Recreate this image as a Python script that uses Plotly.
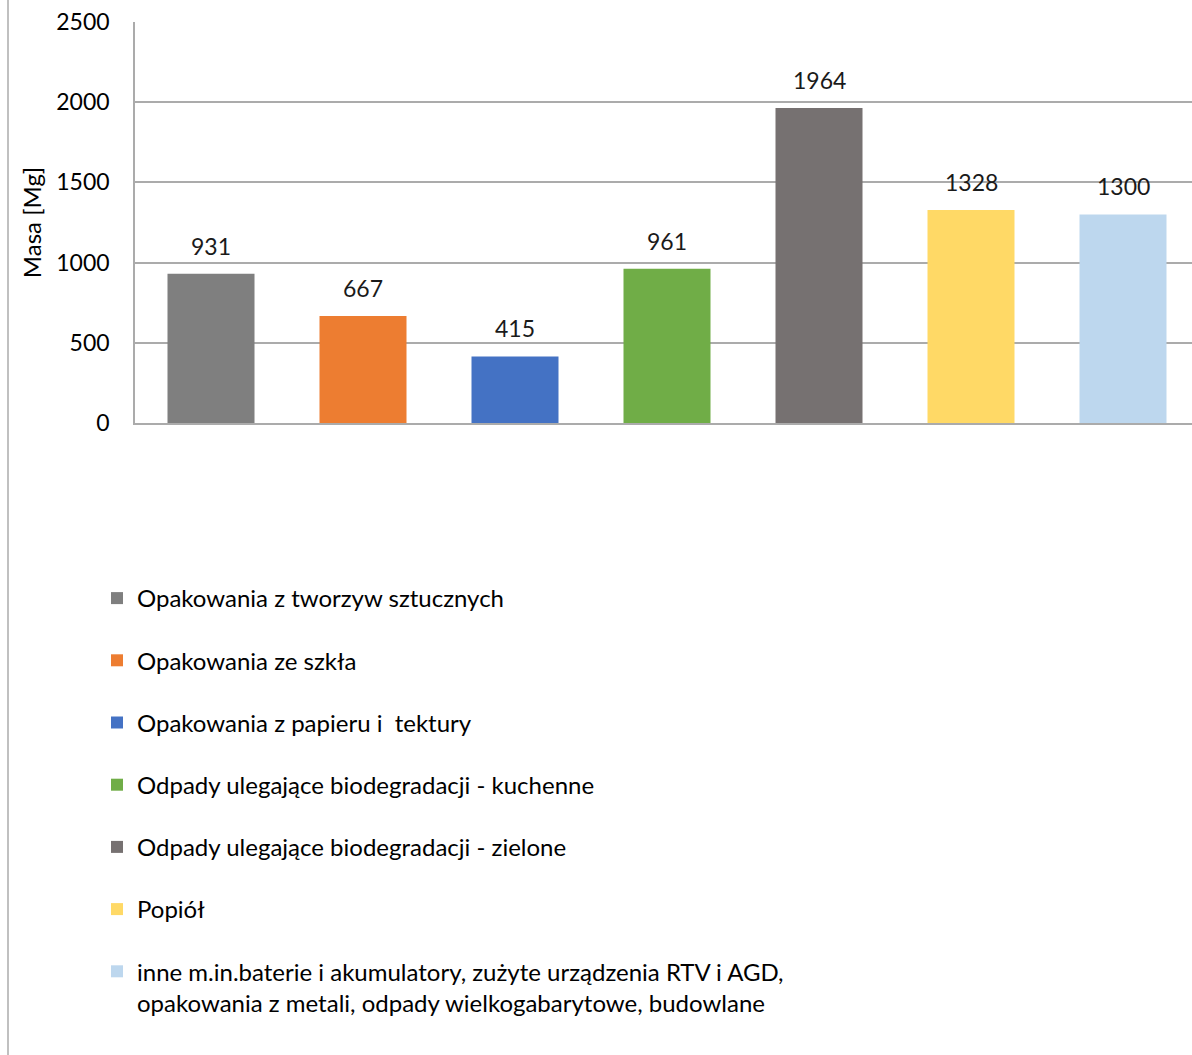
import plotly.graph_objects as go

categories = [
    "Opakowania z tworzyw sztucznych",
    "Opakowania ze szkła",
    "Opakowania z papieru i  tektury",
    "Odpady ulegające biodegradacji - kuchenne",
    "Odpady ulegające biodegradacji - zielone",
    "Popiół",
    "inne m.in.baterie i akumulatory, zużyte urządzenia RTV i AGD,<br>opakowania z metali, odpady wielkogabarytowe, budowlane",
]
values = [931, 667, 415, 961, 1964, 1328, 1300]
colors = ["#7F7F7F", "#ED7D31", "#4472C4", "#70AD47", "#767171", "#FFD966", "#BDD7EE"]
y_ticks = [0, 500, 1000, 1500, 2000, 2500]

FONT = "Lato"
W, H = 1192, 1055
L, T, R, B = 135, 22, 0, 632
plot_w = W - L - R
cat_px = 152.0
GRID = "#ABABAB"

fig = go.Figure()
for i, (c, v, col) in enumerate(zip(categories, values, colors)):
    fig.add_trace(go.Bar(
        x=[i], y=[v], name=c, width=87 / cat_px,
        marker=dict(color=col, line=dict(width=0)),
        legendgroup=f"g{i}", hoverinfo="y",
    ))
    fig.add_annotation(x=i, y=v, text=str(v), showarrow=False,
                       yanchor="bottom", yshift=12,
                       font=dict(family=FONT, size=23, color="#1A1A1A"))

fig.add_shape(type="line", xref="paper", yref="paper",
              x0=(8 - L) / plot_w, x1=(8 - L) / plot_w, y0=-2, y1=2,
              line=dict(color=GRID, width=1.5))

fig.update_layout(
    width=W, height=H,
    margin=dict(l=L, r=R, t=T, b=B, pad=0),
    paper_bgcolor="white", plot_bgcolor="white",
    barmode="overlay",
    showlegend=True,
    legend=dict(
        x=(97 - L) / plot_w, xanchor="left",
        y=(423 - 576) / (H - T - B), yanchor="top",
        traceorder="grouped", tracegroupgap=28, valign="top",
        font=dict(family=FONT, size=24, color="#000000"),
        itemwidth=30, bgcolor="rgba(0,0,0,0)",
    ),
    font=dict(family=FONT, size=23, color="#000000"),
)
fig.update_xaxes(range=[-0.5, -0.5 + plot_w / cat_px], showticklabels=False,
                 showgrid=False, zeroline=False, showline=True,
                 linecolor=GRID, linewidth=1.5, ticks="")
fig.update_yaxes(range=[0, 2500], tickvals=y_ticks, showgrid=True,
                 gridcolor=GRID, gridwidth=1.5, zeroline=False,
                 showline=True, linecolor=GRID, linewidth=1.5,
                 ticks="", ticklabelstandoff=19,
                 tickfont=dict(family=FONT, size=23, color="#000000"),
                 title=dict(text="Masa [Mg]", standoff=8,
                            font=dict(family=FONT, size=24, color="#000000")))

fig.write_html(
    "out.html",
    config={"displayModeBar": False},
    post_script="document.body.style.margin='0';document.body.style.overflow='hidden';"
                "document.documentElement.style.overflow='hidden';",
)
